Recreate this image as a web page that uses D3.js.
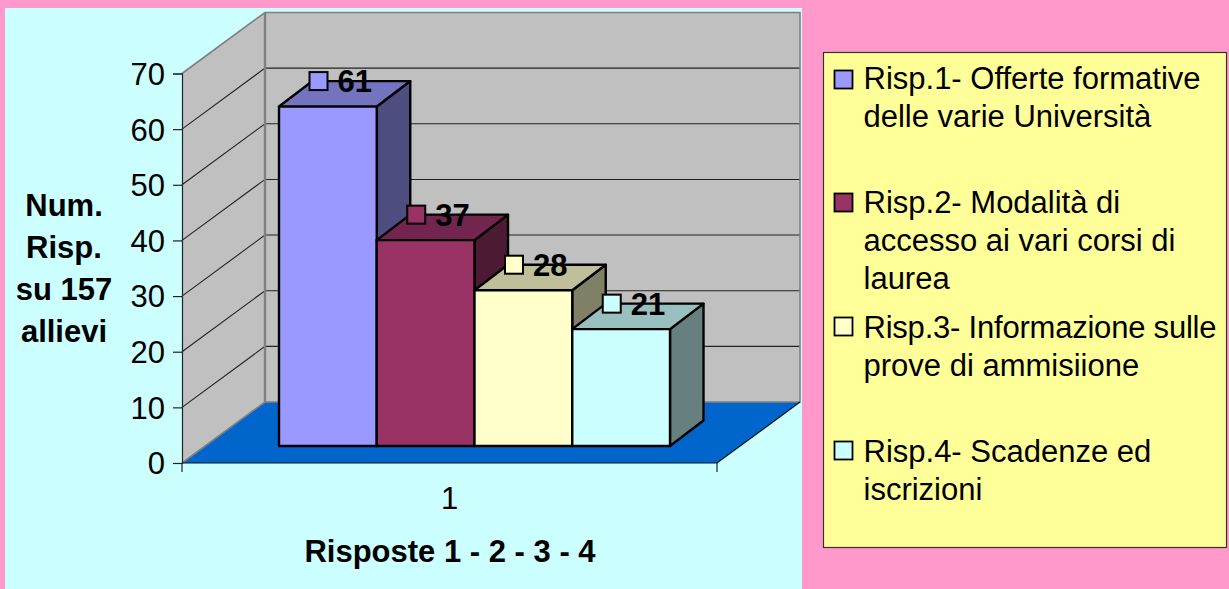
<!DOCTYPE html>
<html><head><meta charset="utf-8">
<style>html,body{margin:0;padding:0;background:#FF99CC}svg{display:block}text{font-family:"Liberation Sans",Arial,sans-serif;fill:#000}</style>
<script src="https://cdn.jsdelivr.net/npm/d3@7"></script></head><body>
<svg id="c" width="1229" height="589"></svg>
<script>
const categories = ["Risp.1", "Risp.2", "Risp.3", "Risp.4"];
const values = [61, 37, 28, 21];
const colors = ["#9999FF", "#993366", "#FFFFCC", "#CCFFFF"];
const yTicks = [0, 10, 20, 30, 40, 50, 60, 70];
const xTickLabel = "1";
const yTitleLines = ["Num.", "Risp.", "su 157", "allievi"];
const xTitle = "Risposte 1 - 2 - 3 - 4";
const legendLines = [
  ["Risp.1- Offerte formative", "delle varie Università"],
  ["Risp.2- Modalità di", "accesso ai vari corsi di", "laurea"],
  ["Risp.3- Informazione sulle", "prove di ammisiione"],
  ["Risp.4- Scadenze ed", "iscrizioni"]
];

const svg = d3.select("#c");
const FONT = 31;
svg.append("rect").attr("x",5).attr("y",8).attr("width",797).attr("height",581).attr("fill","#CCFFFF");

const y = d3.scaleLinear().domain([0,70]).range([463,73.5]);
const fx0 = 182, fx1 = 717, dx = 83, dy = -61;
const barBase = 446, barLift = 463 - barBase;
const x = d3.scaleBand().domain(categories).range([279,670]).padding(0);
const bdx = 33.5, bdy = -25.5;
const h = v => y(0) - y(v);
const pts = a => a.map(p => p.join(",")).join(" ");
const shade = (c,k) => { const r = d3.rgb(c); return d3.rgb(r.r*k, r.g*k, r.b*k); };

// walls
svg.append("polygon").attr("points",pts([[fx0+dx,y(0)+dy],[fx1+dx,y(0)+dy],[fx1+dx,y(70)+dy],[fx0+dx,y(70)+dy]])).attr("fill","#C0C0C0");
svg.append("polygon").attr("points",pts([[fx0,y(0)],[fx0+dx,y(0)+dy],[fx0+dx,y(70)+dy],[fx0,y(70)]])).attr("fill","#C0C0C0");
// floor
svg.append("polygon").attr("points",pts([[fx0,y(0)],[fx0+dx,y(0)+dy],[fx1+dx,y(0)+dy],[fx1,y(0)]])).attr("fill","#0066CC");
// gridlines
yTicks.slice(1,-1).forEach(t=>{
  svg.append("polyline").attr("points",pts([[fx0,y(t)],[fx0+dx,y(t)+dy],[fx1+dx,y(t)+dy]]))
    .attr("fill","none").attr("stroke","#222").attr("stroke-width",1.1);
});
// wall borders
svg.append("polyline").attr("points",pts([[fx0,y(70)],[fx0+dx,y(70)+dy],[fx1+dx,y(70)+dy],[fx1+dx,y(0)+dy],[fx0+dx,y(0)+dy],[fx0,y(0)]]))
  .attr("fill","none").attr("stroke","#808080").attr("stroke-width",1.6);
svg.append("line").attr("x1",fx0+dx).attr("x2",fx0+dx).attr("y1",y(70)+dy).attr("y2",y(0)+dy).attr("stroke","#808080").attr("stroke-width",2.4);
// floor outer edges
svg.append("polyline").attr("points",pts([[fx0,y(0)],[fx1,y(0)],[fx1+dx,y(0)+dy]])).attr("fill","none").attr("stroke","#111").attr("stroke-width",1.2);

// axes
const yAxis = d3.axisLeft(y).tickValues(yTicks).tickSize(9).tickPadding(8);
const gy = svg.append("g").attr("transform",`translate(${fx0},0)`).call(yAxis);
gy.selectAll("text").attr("font-size",FONT).attr("y",1).style("font-family",'"Liberation Sans"').attr("fill","#000");
gy.selectAll("line").attr("stroke","#222").attr("stroke-width",1.2);
gy.select(".domain").attr("stroke","#222").attr("stroke-width",1.2);
const xAxisScale = d3.scalePoint().domain([xTickLabel]).range([(fx0+fx1)/2,(fx0+fx1)/2]);
svg.append("line").attr("x1",fx0).attr("x2",fx0).attr("y1",y(0)).attr("y2",y(0)+9).attr("stroke","#222").attr("stroke-width",1.2);
svg.append("line").attr("x1",fx1).attr("x2",fx1).attr("y1",y(0)).attr("y2",y(0)+9).attr("stroke","#222").attr("stroke-width",1.2);
svg.append("text").attr("x",xAxisScale(xTickLabel)).attr("y",509).attr("text-anchor","middle").attr("font-size",FONT).text(xTickLabel);
svg.append("text").attr("x",450).attr("y",562).attr("text-anchor","middle").attr("font-size",FONT).attr("font-weight","bold").text(xTitle);
svg.selectAll("text.yt").data(yTitleLines).join("text").attr("class","yt")
  .attr("x",64).attr("y",(d,i)=>216+i*42).attr("text-anchor","middle").attr("font-size",FONT).attr("font-weight","bold").text(d=>d);

// bars
const data = categories.map((c,i)=>({c,v:values[i],col:colors[i]}));
const gb = svg.append("g").attr("stroke","#000").attr("stroke-width",2.4).attr("stroke-linejoin","round");
data.forEach(d=>{
  const x0=x(d.c), x1=x0+x.bandwidth(), yb=y(0)-barLift, yt=yb-h(d.v);
  gb.append("polygon").attr("points",pts([[x1,yb],[x1+bdx,yb+bdy],[x1+bdx,yt+bdy],[x1,yt]])).attr("fill",shade(d.col,.5));
  gb.append("polygon").attr("points",pts([[x0,yt],[x1,yt],[x1+bdx,yt+bdy],[x0+bdx,yt+bdy]])).attr("fill",shade(d.col,.75));
  gb.append("rect").attr("x",x0).attr("y",yt).attr("width",x.bandwidth()).attr("height",yb-yt).attr("fill",d.col);
});
// data labels with keys
data.forEach(d=>{
  const mx=x(d.c)+39.5, my=y(0)-barLift-h(d.v)+bdy;
  svg.append("rect").attr("x",mx-9).attr("y",my-9).attr("width",18).attr("height",18).attr("fill",d.col).attr("stroke","#000").attr("stroke-width",2);
  svg.append("text").attr("x",mx+19).attr("y",my+11).attr("font-size",FONT).attr("font-weight","bold").text(d.v);
});

// legend
svg.append("rect").attr("x",823.5).attr("y",52.5).attr("width",403).attr("height",495).attr("fill","#FFFF99").attr("stroke","#333").attr("stroke-width",1.2);
const legY = [89, 213, 338, 462], legSw = [80, 203, 327, 451];
legendLines.forEach((lines,i)=>{
  svg.append("rect").attr("x",834.5).attr("y",legSw[i]-9.5).attr("width",18).attr("height",18).attr("fill",colors[i]).attr("stroke","#000").attr("stroke-width",1.8);
  lines.forEach((t,j)=>{
    const txt = svg.append("text").attr("x",863.5).attr("y",legY[i]+j*38.2).attr("font-size",FONT).text(t);
    if (i === 2 && j === 0) txt.attr("textLength",353).attr("lengthAdjust","spacing");
  });
});
</script></body></html>
